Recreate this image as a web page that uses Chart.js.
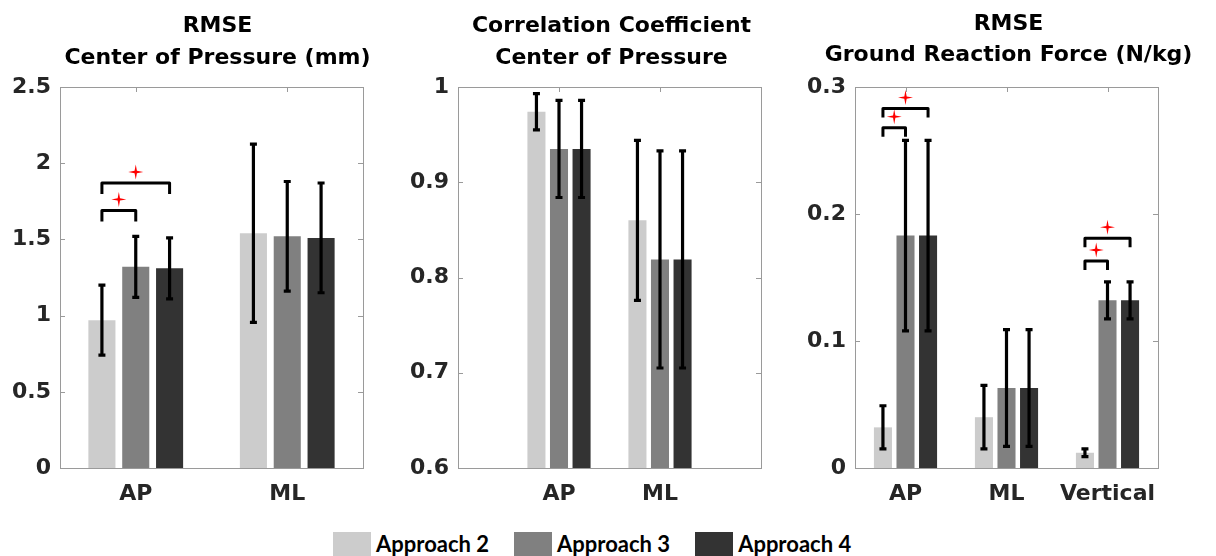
<!DOCTYPE html>
<html>
<head>
<meta charset="utf-8">
<script src="https://cdn.jsdelivr.net/npm/chart.js@4/dist/chart.umd.min.js"></script>
<style>
  html, body { margin: 0; padding: 0; background: #fff; }
  body { width: 1216px; height: 556px; overflow: hidden; position: relative; font-family: Lato, "Open Sans", sans-serif; }
  canvas { position: absolute; top: 0; }
  #legend { position: absolute; left: 333px; top: 530px; display: flex; align-items: center; }
  .item { display: flex; align-items: center; margin-right: 25px; }
  .swatch { width: 38px; height: 24px; margin-right: 5px; }
  .item span { font: bold 22px Lato, sans-serif; color: #000; }
</style>
</head>
<body>
<canvas id="copRmse" width="390" height="510" style="left:0"></canvas>
<canvas id="copCorr" width="400" height="510" style="left:390px"></canvas>
<canvas id="grfRmse" width="426" height="510" style="left:790px"></canvas>
<div id="legend"></div>

<script>
// Series shared by all three panels
const approachNames = ['Approach 2', 'Approach 3', 'Approach 4'];
const approachColors = ['#cccccc', '#808080', '#333333'];

// RMSE, centre of pressure (mm): mean and SD per approach
const copRmseCategories = ['AP', 'ML'];
const copRmseMean2 = [0.97, 1.54];
const copRmseSd2 = [0.23, 0.585];
const copRmseMean3 = [1.32, 1.52];
const copRmseSd3 = [0.20, 0.36];
const copRmseMean4 = [1.31, 1.51];
const copRmseSd4 = [0.20, 0.36];
const copRmseTicks = [0, 0.5, 1, 1.5, 2, 2.5];
const copRmseTickLabels = ['0', '0.5', '1', '1.5', '2', '2.5'];
// significant pairwise differences: category, first and second approach, bracket level
const copRmseSigCategory = [0, 0];
const copRmseSigFrom = [0, 0];
const copRmseSigTo = [1, 2];
const copRmseSigLevel = [1.69, 1.87];

// Correlation coefficient, centre of pressure
const copCorrCategories = ['AP', 'ML'];
const copCorrMean2 = [0.974, 0.860];
const copCorrSd2 = [0.019, 0.084];
const copCorrMean3 = [0.935, 0.819];
const copCorrSd3 = [0.051, 0.114];
const copCorrMean4 = [0.935, 0.819];
const copCorrSd4 = [0.051, 0.114];
const copCorrTicks = [0.6, 0.7, 0.8, 0.9, 1];
const copCorrTickLabels = ['0.6', '0.7', '0.8', '0.9', '1'];

// RMSE, ground reaction force (N/kg)
const grfRmseCategories = ['AP', 'ML', 'Vertical'];
const grfRmseMean2 = [0.032, 0.040, 0.012];
const grfRmseSd2 = [0.017, 0.025, 0.003];
const grfRmseMean3 = [0.183, 0.063, 0.132];
const grfRmseSd3 = [0.075, 0.046, 0.0145];
const grfRmseMean4 = [0.183, 0.063, 0.132];
const grfRmseSd4 = [0.075, 0.046, 0.0145];
const grfRmseTicks = [0, 0.1, 0.2, 0.3];
const grfRmseTickLabels = ['0', '0.1', '0.2', '0.3'];
const grfRmseSigCategory = [0, 0, 2, 2];
const grfRmseSigFrom = [0, 0, 0, 0];
const grfRmseSigTo = [1, 2, 1, 2];
const grfRmseSigLevel = [0.268, 0.283, 0.163, 0.181];

const FONT = '"DejaVu Sans", Verdana, sans-serif';
const TEXT_SIZE = 22;
const TICK_COLOR = '#262626';
const FRAME_COLOR = '#9a9a9a';

function drawStar(ctx, x, y, r) {
  const inner = r * 0.22;
  ctx.beginPath();
  for (let k = 0; k < 8; k++) {
    const ang = -Math.PI / 2 + k * Math.PI / 4;
    const rad = k % 2 === 0 ? r : inner;
    const px = x + rad * Math.cos(ang), py = y + rad * Math.sin(ang);
    if (k === 0) ctx.moveTo(px, py); else ctx.lineTo(px, py);
  }
  ctx.closePath();
  ctx.fill();
}

// frame, inward ticks, error bars, significance brackets and title
const panelDecor = {
  id: 'panelDecor',
  afterDatasetsDraw(chart, args, opts) {
    const ctx = chart.ctx;
    const area = chart.chartArea;
    const xs = chart.scales.x, ys = chart.scales.y;
    ctx.save();

    // axes box with inward tick marks
    ctx.strokeStyle = FRAME_COLOR;
    ctx.lineWidth = 1;
    ctx.strokeRect(Math.round(area.left) + 0.5, Math.round(area.top) + 0.5,
                   Math.round(area.right - area.left), Math.round(area.bottom - area.top));
    ctx.beginPath();
    ys.ticks.forEach(t => {
      const y = Math.round(ys.getPixelForValue(t.value)) + 0.5;
      ctx.moveTo(area.left, y); ctx.lineTo(area.left + 5, y);
      ctx.moveTo(area.right, y); ctx.lineTo(area.right - 5, y);
    });
    chart.data.labels.forEach((lab, i) => {
      if (!lab) return;
      const x = Math.round(xs.getPixelForValue(i)) + 0.5;
      ctx.moveTo(x, area.top); ctx.lineTo(x, area.top + 5);
    });
    ctx.stroke();

    // error bars (mean ± SD)
    ctx.strokeStyle = '#000';
    ctx.lineWidth = 3.2;
    ctx.lineCap = 'butt';
    chart.data.datasets.forEach((ds, di) => {
      const meta = chart.getDatasetMeta(di);
      ds.data.forEach((v, j) => {
        if (v === null) return;
        const sd = ds.sd[j];
        const x = meta.data[j].x;
        const yHi = ys.getPixelForValue(v + sd);
        const yLo = ys.getPixelForValue(v - sd);
        ctx.beginPath();
        ctx.moveTo(x, yHi); ctx.lineTo(x, yLo);
        ctx.moveTo(x - 3.5, yHi); ctx.lineTo(x + 3.5, yHi);
        ctx.moveTo(x - 3.5, yLo); ctx.lineTo(x + 3.5, yLo);
        ctx.stroke();
      });
    });

    // significance brackets with red stars
    const sig = opts.sig;
    if (sig) {
      const offset = chart.data.labels[0] === '' ? 1 : 0;
      sig.category.forEach((c, k) => {
        const a = chart.getDatasetMeta(sig.from[k]).data[c + offset].x;
        const b = chart.getDatasetMeta(sig.to[k]).data[c + offset].x;
        const y = ys.getPixelForValue(sig.level[k]);
        ctx.strokeStyle = '#000';
        ctx.lineWidth = 3;
        ctx.lineJoin = 'round';
        ctx.beginPath();
        ctx.moveTo(a, y + opts.leg); ctx.lineTo(a, y); ctx.lineTo(b, y); ctx.lineTo(b, y + opts.leg);
        ctx.stroke();
        ctx.fillStyle = '#ff0000';
        drawStar(ctx, (a + b) / 2, y - 11, 7.5);
      });
    }

    // two-line title centred over the plot area
    ctx.fillStyle = '#000';
    ctx.font = 'bold ' + TEXT_SIZE + 'px ' + FONT;
    ctx.textAlign = 'center';
    ctx.textBaseline = 'alphabetic';
    const cx = (area.left + area.right) / 2 + opts.titleShift;
    opts.title.forEach((line, i) => ctx.fillText(line, cx, opts.titleY[i]));
    ctx.restore();
  }
};

function padEnds(arr, on) { return on ? [null, ...arr, null] : arr; }

function buildPanel(id, p) {
  const labels = p.padded ? ['', ...p.categories, ''] : p.categories;
  const datasets = p.means.map((m, i) => ({
    label: approachNames[i],
    data: padEnds(m, p.padded),
    sd: padEnds(p.sds[i], p.padded),
    backgroundColor: approachColors[i],
    borderWidth: 0,
    categoryPercentage: 0.67,
    barPercentage: 0.8
  }));
  return new Chart(document.getElementById(id), {
    type: 'bar',
    data: { labels, datasets },
    plugins: [panelDecor],
    options: {
      responsive: false,
      animation: false,
      events: [],
      layout: { padding: { top: 87, right: p.rightPad, left: 0, bottom: 0 } },
      plugins: {
        legend: { display: false },
        tooltip: { enabled: false },
        title: { display: false },
        panelDecor: { title: p.title, titleY: p.titleY, titleShift: p.titleShift, sig: p.sig, leg: p.leg }
      },
      scales: {
        x: {
          offset: !p.padded,
          grid: { display: false, drawTicks: false },
          border: { display: false },
          ticks: { color: TICK_COLOR, font: { family: FONT, size: TEXT_SIZE, weight: 'bold' }, padding: 13, maxRotation: 0, autoSkip: false },
          afterFit(scale) { scale.height = 42; }
        },
        y: {
          min: p.ticks[0],
          max: p.ticks[p.ticks.length - 1],
          grid: { display: false, drawTicks: false },
          border: { display: false },
          afterBuildTicks(scale) { scale.ticks = p.ticks.map(v => ({ value: v })); },
          ticks: {
            color: TICK_COLOR,
            font: { family: FONT, size: TEXT_SIZE, weight: 'bold' },
            padding: 9,
            callback: (v, i) => p.tickLabels[i]
          },
          afterFit(scale) { scale.width = p.yWidth; }
        }
      }
    }
  });
}

buildPanel('copRmse', {
  categories: copRmseCategories, padded: false,
  means: [copRmseMean2, copRmseMean3, copRmseMean4],
  sds: [copRmseSd2, copRmseSd3, copRmseSd4],
  ticks: copRmseTicks, tickLabels: copRmseTickLabels,
  yWidth: 60, rightPad: 27, leg: 11,
  title: ['RMSE', 'Center of Pressure (mm)'], titleY: [32, 64], titleShift: 6,
  sig: { category: copRmseSigCategory, from: copRmseSigFrom, to: copRmseSigTo, level: copRmseSigLevel }
});

buildPanel('copCorr', {
  categories: copCorrCategories, padded: true,
  means: [copCorrMean2, copCorrMean3, copCorrMean4],
  sds: [copCorrSd2, copCorrSd3, copCorrSd4],
  ticks: copCorrTicks, tickLabels: copCorrTickLabels,
  yWidth: 68, rightPad: 29, leg: 10,
  title: ['Correlation Coefficient', 'Center of Pressure'], titleY: [32, 64], titleShift: 2,
  sig: null
});

buildPanel('grfRmse', {
  categories: grfRmseCategories, padded: false,
  means: [grfRmseMean2, grfRmseMean3, grfRmseMean4],
  sds: [grfRmseSd2, grfRmseSd3, grfRmseSd4],
  ticks: grfRmseTicks, tickLabels: grfRmseTickLabels,
  yWidth: 65, rightPad: 58, leg: 9,
  title: ['RMSE', 'Ground Reaction Force (N/kg)'], titleY: [30, 61], titleShift: 2,
  sig: { category: grfRmseSigCategory, from: grfRmseSigFrom, to: grfRmseSigTo, level: grfRmseSigLevel }
});

// legend row beneath the panels
const legend = document.getElementById('legend');
approachNames.forEach((name, i) => {
  const item = document.createElement('div');
  item.className = 'item';
  const sw = document.createElement('div');
  sw.className = 'swatch';
  sw.style.background = approachColors[i];
  const txt = document.createElement('span');
  txt.textContent = name;
  item.appendChild(sw);
  item.appendChild(txt);
  legend.appendChild(item);
});
</script>
</body>
</html>
